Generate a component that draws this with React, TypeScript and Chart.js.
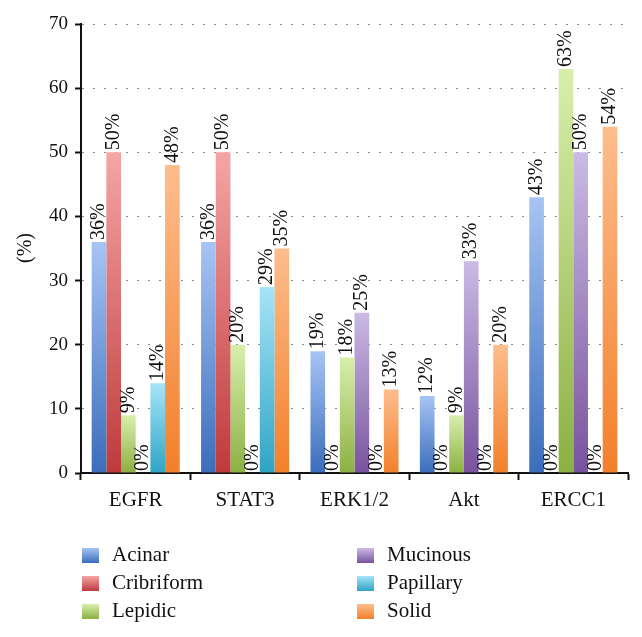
import React, { useEffect, useRef } from "react";
import { Chart, registerables } from "chart.js";

Chart.register(...registerables);

const categories = ["EGFR", "STAT3", "ERK1/2", "Akt", "ERCC1"];
const seriesNames = ["Acinar", "Cribriform", "Lepidic", "Mucinous", "Papillary", "Solid"];
const acinar = [36, 36, 19, 12, 43];
const cribriform = [50, 50, 0, 0, 0];
const lepidic = [9, 20, 18, 9, 63];
const mucinous = [0, 0, 25, 33, 50];
const papillary = [14, 29, 0, 0, 0];
const solid = [48, 35, 13, 20, 54];
const seriesValues = [acinar, cribriform, lepidic, mucinous, papillary, solid];
const yTicks = [0, 10, 20, 30, 40, 50, 60, 70];

const topColors = ["#a7c4f4", "#f5a5a5", "#d8efac", "#cabae4", "#a6e4f8", "#fdbd8d"];
const bottomColors = ["#3b6dbb", "#bf3a3c", "#8cb043", "#79539e", "#30a4c4", "#f2802b"];

const FONT = "'Liberation Serif', 'DejaVu Serif', serif";

function gradFor(i: number) {
  return (ctx: any) => {
    const chart = ctx.chart;
    const area = chart.chartArea;
    if (!area || ctx.type !== "data") return bottomColors[i];
    const ys = chart.scales.y;
    const top = ys.getPixelForValue(ctx.raw as number);
    const base = ys.getPixelForValue(0);
    if (base - top < 1) return bottomColors[i];
    const g = chart.ctx.createLinearGradient(0, top, 0, base);
    g.addColorStop(0, topColors[i]);
    g.addColorStop(1, bottomColors[i]);
    return g;
  };
}

const labelPlugin = {
  id: "valueLabels",
  afterDatasetsDraw(chart: any) {
    const ctx = chart.ctx;
    ctx.save();
    ctx.font = `20px ${FONT}`;
    ctx.fillStyle = "#111";
    ctx.textAlign = "left";
    ctx.textBaseline = "middle";
    chart.data.datasets.forEach((ds: any, di: number) => {
      const meta = chart.getDatasetMeta(di);
      meta.data.forEach((bar: any, j: number) => {
        const v = ds.data[j];
        ctx.save();
        ctx.translate(bar.x, bar.y - 2);
        ctx.rotate(-Math.PI / 2);
        ctx.fillText(`${v}%`, 0, 0);
        ctx.restore();
      });
    });
    ctx.restore();
  },
};

const legendPlugin = {
  id: "customLegend",
  afterDraw(chart: any) {
    const ctx = chart.ctx;
    ctx.save();
    ctx.font = `20px ${FONT}`;
    ctx.fillStyle = "#111";
    ctx.textAlign = "center";
    ctx.textBaseline = "middle";
    ctx.save();
    ctx.translate(26, 248);
    ctx.rotate(-Math.PI / 2);
    ctx.fillText("(%)", 0, 0);
    ctx.restore();

    const colX = [82, 357];
    const rowY = [555.5, 583.5, 611.5];
    ctx.font = `21px ${FONT}`;
    ctx.textAlign = "left";
    seriesNames.forEach((name, i) => {
      const c = Math.floor(i / 3);
      const r = i % 3;
      const x = colX[c];
      const y = rowY[r];
      const g = ctx.createLinearGradient(0, y - 7.5, 0, y + 7.5);
      g.addColorStop(0, topColors[i]);
      g.addColorStop(1, bottomColors[i]);
      ctx.fillStyle = g;
      ctx.fillRect(x, y - 7.5, 17, 15);
      ctx.fillStyle = "#111";
      ctx.fillText(name, x + 30, y);
    });
    ctx.restore();
  },
};

export default function App() {
  const ref = useRef<HTMLCanvasElement>(null);
  useEffect(() => {
    if (!ref.current) return;
    const chart = new Chart(ref.current, {
      type: "bar",
      data: {
        labels: categories,
        datasets: seriesNames.map((name, i) => ({
          label: name,
          data: seriesValues[i],
          backgroundColor: gradFor(i),
          borderWidth: 0,
          barPercentage: 1,
          categoryPercentage: 0.805,
        })),
      },
      options: {
        responsive: false,
        animation: false,
        layout: { padding: { left: 0, right: 14, top: 24, bottom: 117 } },
        plugins: {
          legend: { display: false },
          tooltip: { enabled: false },
        },
        scales: {
          x: {
            grid: {
              display: true,
              drawOnChartArea: false,
              drawTicks: true,
              tickLength: 7,
              tickColor: "#111",
              tickWidth: 2,
              offset: true,
            },
            border: { display: true, color: "#111", width: 2 },
            ticks: {
              color: "#111",
              font: { family: FONT, size: 21 },
              padding: 8,
              maxRotation: 0,
            },
            afterFit: (s: any) => {
              s.height = 47;
            },
          },
          y: {
            min: 0,
            max: 70,
            afterBuildTicks: (s: any) => {
              s.ticks = yTicks.map((v) => ({ value: v }));
            },
            grid: {
              color: "#8a8a8a",
              lineWidth: 1,
              drawTicks: true,
              tickLength: 6,
              tickColor: "#111",
              tickWidth: 2,
              tickBorderDash: [],
            },
            border: { display: true, color: "#111", width: 2, dash: [2, 9] },
            ticks: {
              color: "#111",
              font: { family: FONT, size: 19 },
              padding: 7,
            },
            afterFit: (s: any) => {
              s.width = 81;
            },
          },
        },
      },
      plugins: [labelPlugin, legendPlugin],
    });
    return () => chart.destroy();
  }, []);
  return (
    <div style={{ position: "fixed", left: 0, top: 0, width: 642, height: 637, background: "#fff" }}>
      <canvas ref={ref} width={642} height={637} style={{ width: 642, height: 637, display: "block" }} />
    </div>
  );
}
